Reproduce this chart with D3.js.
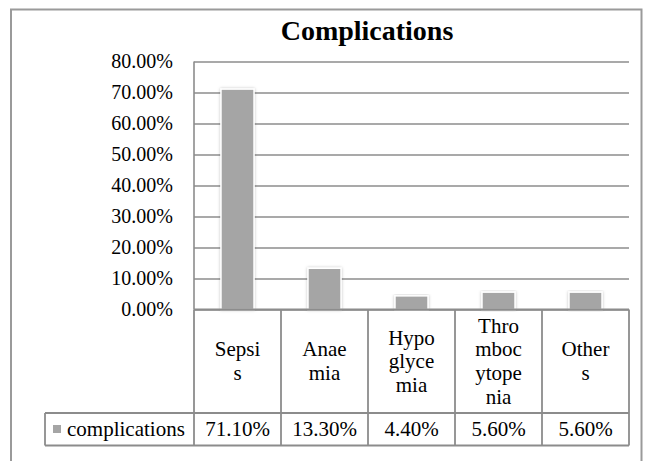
<!DOCTYPE html>
<html>
<head>
<meta charset="utf-8">
<script src="https://cdn.jsdelivr.net/npm/d3@7"></script>
<style>
  body { margin: 0; background: #fff; }
  svg text { font-family: "Liberation Serif", "Times New Roman", Tinos, "DejaVu Serif", "Noto Serif", serif; fill: #000; }
</style>
</head>
<body>
<div id="chart"></div>
<script>
// chart data
var categories = ['Sepsis', 'Anaemia', 'Hypoglycemia', 'Thrombocytopenia', 'Others'];
// the labels wrap inside the table cells like this
var categoryLines = [['Sepsi', 's'], ['Anae', 'mia'], ['Hypo', 'glyce', 'mia'], ['Thro', 'mboc', 'ytope', 'nia'], ['Other', 's']];
var values = [0.711, 0.133, 0.044, 0.056, 0.056];
var yTicks = [0, 0.1, 0.2, 0.3, 0.4, 0.5, 0.6, 0.7, 0.8];
var seriesName = 'complications';
var title = 'Complications';

var w = 646;
var h = 461;
var plot = {left: 194, right: 629, top: 61.5, bottom: 309.5};
var table = {rowBottom: 413, dataBottom: 445.5, legendLeft: 45};
var barColor = '#a5a5a5';
var lineColor = '#8c8c8c';
var fmt = d3.format('.2%');

var svg = d3.select('#chart')
     .append('svg')
     .attr('width', w)
     .attr('height', h);

var defs = svg.append('defs');
defs.append('filter')
     .attr('id', 'shadow')
     .attr('x', '-40%').attr('y', '-10%')
     .attr('width', '180%').attr('height', '120%')
     .append('feDropShadow')
     .attr('dx', 0).attr('dy', 0)
     .attr('stdDeviation', 1.6)
     .attr('flood-color', '#000')
     .attr('flood-opacity', 0.25);

// outer frame (bottom edge falls off the picture)
svg.append('rect')
     .attr('x', 11).attr('y', 9.5)
     .attr('width', 630.5).attr('height', 470)
     .attr('fill', 'none')
     .attr('stroke', '#9a9a9a')
     .attr('stroke-width', 2);

svg.append('text')
     .attr('x', 367)
     .attr('y', 40)
     .attr('text-anchor', 'middle')
     .attr('font-size', 28)
     .attr('font-weight', 'bold')
     .text(title);

var y = d3.scaleLinear()
     .domain([0, 0.8])
     .range([plot.bottom, plot.top]);

// columns of the table and the bars sit in the same slots
var col = d3.scaleBand()
     .domain(categories)
     .range([plot.left, plot.right])
     .padding(0);

var x = d3.scaleBand()
     .domain(categories)
     .range([plot.left, plot.right])
     .paddingInner(0.62)
     .paddingOuter(0.31);

var yAxis = d3.axisLeft(y)
     .tickValues(yTicks)
     .tickFormat(fmt)
     .tickSize(-(plot.right - plot.left))
     .tickPadding(21);

var gy = svg.append('g')
     .attr('transform', 'translate(' + plot.left + ',0)')
     .call(yAxis);
gy.attr('font-family', null);
gy.select('.domain').remove();
gy.selectAll('.tick line')
     .attr('stroke', lineColor)
     .attr('stroke-width', 1.6);
gy.selectAll('.tick text')
     .attr('font-size', 20)
     .attr('fill', '#000');

svg.append('line')
     .attr('x1', plot.left).attr('x2', plot.left)
     .attr('y1', plot.top).attr('y2', plot.bottom)
     .attr('stroke', lineColor)
     .attr('stroke-width', 1.6);

svg.selectAll('rect.bar')
     .data(values)
     .enter()
     .append('rect')
     .attr('class', 'bar')
     .attr('x', (d, i) => x(categories[i]))
     .attr('y', d => y(d))
     .attr('width', x.bandwidth())
     .attr('height', d => y(0) - y(d))
     .attr('fill', barColor)
     .attr('stroke', '#fff')
     .attr('stroke-width', 1.5)
     .attr('filter', 'url(#shadow)');

// data table under the plot
var tg = svg.append('g')
     .attr('fill', 'none')
     .attr('stroke', lineColor)
     .attr('stroke-width', 1.8);

tg.append('line')
     .attr('x1', plot.left).attr('x2', plot.right)
     .attr('y1', plot.bottom).attr('y2', plot.bottom);
tg.append('line')
     .attr('x1', table.legendLeft).attr('x2', plot.right)
     .attr('y1', table.rowBottom).attr('y2', table.rowBottom);
tg.append('line')
     .attr('x1', table.legendLeft).attr('x2', plot.right)
     .attr('y1', table.dataBottom).attr('y2', table.dataBottom);
tg.append('line')
     .attr('x1', table.legendLeft).attr('x2', table.legendLeft)
     .attr('y1', table.rowBottom).attr('y2', table.dataBottom);

tg.selectAll('line.col')
     .data(categories.concat(['end']))
     .enter()
     .append('line')
     .attr('class', 'col')
     .attr('x1', (d, i) => plot.left + i * col.bandwidth())
     .attr('x2', (d, i) => plot.left + i * col.bandwidth())
     .attr('y1', plot.bottom)
     .attr('y2', table.dataBottom);

var rowMid = (plot.bottom + table.rowBottom) / 2;
var lineH = 23.7;

var labels = svg.selectAll('text.cat')
     .data(categoryLines)
     .enter()
     .append('text')
     .attr('class', 'cat')
     .attr('text-anchor', 'middle')
     .attr('font-size', 21)
     .attr('x', (d, i) => col(categories[i]) + col.bandwidth() / 2)
     .attr('y', d => rowMid - (d.length - 1) * lineH / 2 + 7);

labels.selectAll('tspan')
     .data(d => d)
     .enter()
     .append('tspan')
     .attr('x', function() { return d3.select(this.parentNode).attr('x'); })
     .attr('dy', (d, i) => i === 0 ? 0 : lineH)
     .text(d => d);

var dataMid = (table.rowBottom + table.dataBottom) / 2 + 7;

svg.selectAll('text.val')
     .data(values)
     .enter()
     .append('text')
     .attr('class', 'val')
     .attr('text-anchor', 'middle')
     .attr('font-size', 21)
     .attr('x', (d, i) => col(categories[i]) + col.bandwidth() / 2)
     .attr('y', dataMid)
     .text(d => fmt(d));

// legend key inside the first table cell
svg.append('rect')
     .attr('x', 53).attr('y', 425)
     .attr('width', 8).attr('height', 8)
     .attr('fill', barColor);

svg.append('text')
     .attr('x', 67)
     .attr('y', dataMid)
     .attr('font-size', 21)
     .text(seriesName);
</script>
</body>
</html>
